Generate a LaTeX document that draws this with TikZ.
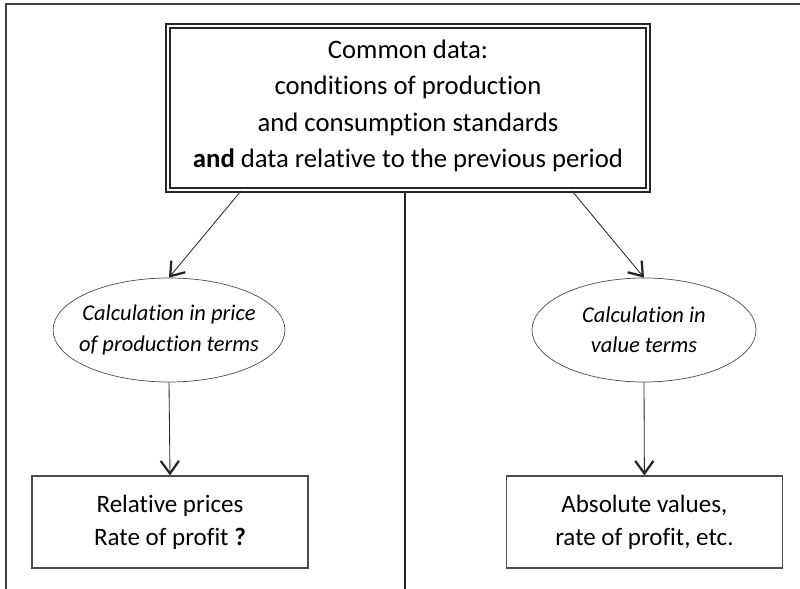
\documentclass[tikz,border=0pt]{standalone}
\usepackage{fontspec}
\setmainfont[Ligatures=NoCommon]{Carlito}
\usetikzlibrary{shapes.geometric,arrows.meta}

\begin{document}
\begin{tikzpicture}[
  frame/.style={line width=1.6pt,black!75},
  databox/.style={draw=black!85,double=white,line width=1.3pt,double distance=1.1pt,
    minimum width=12cm,minimum height=4.1cm,align=center,
    font=\fontsize{19}{26}\selectfont},
  calc/.style={ellipse,draw=black!70,line width=0.5pt,minimum width=5.6cm,minimum height=2.6cm,
    inner xsep=-0.2cm,inner ysep=0pt,align=center,font=\fontsize{16}{21.5}\selectfont\itshape},
  result/.style={draw=black!70,line width=0.8pt,minimum width=6.9cm,minimum height=2.3cm,
    align=center,font=\fontsize{17.8}{23.5}\selectfont},
  arr/.style={black!85,line width=0.6pt,-{Straight Barb[length=9pt,width=13pt,line width=1.6pt]}}
]
\useasboundingbox (0,0) rectangle (20,14.725);

% Page frame (top and left edges)
\draw[frame] (20,14.625) -- (0.15,14.625) -- (0.15,0);

% Common data
\node[databox] (data) at (10.2,12.025) {Common data:\\conditions of production\\and consumption standards\\\textbf{and} data relative to the previous period\\[-20pt]};

% Divider
\coordinate (base) at (10.125,0);
\draw[black!85,line width=1pt] (data.south -| base) -- (base);

% Two ways of calculating
\node[calc] (price) at (4.225,6.475) {Calculation in price\\of production terms};
\node[calc] (value) at (16.1,6.475) {Calculation in\\value terms};

% Results
\node[result] (rel) at (4.25,1.675) {Relative prices\\Rate of profit \textbf{?}};
\node[result] (abs) at (16.11,1.675) {Absolute values,\\rate of profit, etc.};

% Arrows
\draw[arr] ([xshift=-4.175cm]data.south) -- (price.north);
\draw[arr] ([xshift=4.1cm]data.south) -- (value.north);
\draw[arr] (price.south) -- (rel.north);
\draw[arr] (value.south) -- (abs.north);
\end{tikzpicture}
\end{document}
